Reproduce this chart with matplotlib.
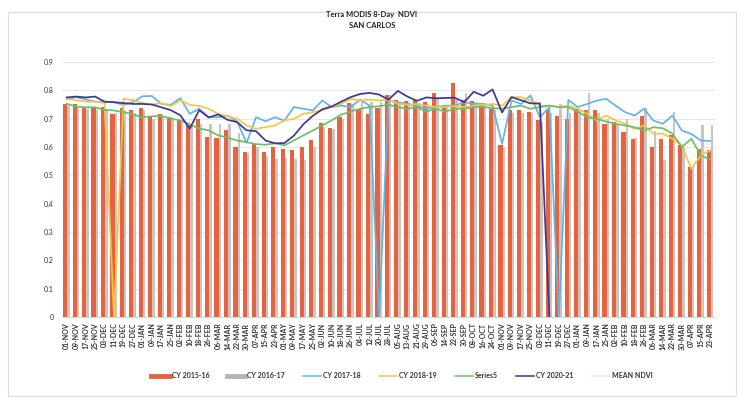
import numpy as np
import matplotlib
matplotlib.use("Agg")
import matplotlib.pyplot as plt
from matplotlib.patches import Rectangle
from matplotlib.lines import Line2D

plt.rcParams['font.family'] = ['Lato', 'DejaVu Sans']

labels = ['01-NOV','09-NOV','17-NOV','25-NOV','03-DEC','11-DEC','19-DEC','27-DEC',
          '01-JAN','09-JAN','17-JAN','25-JAN','02-FEB','10-FEB','18-FEB','26-FEB',
          '06-MAR','14-MAR','22-MAR','30-MAR','07-APR','15-APR','23-APR','01-MAY',
          '09-MAY','17-MAY','25-MAY','02-JUN','10-JUN','18-JUN','26-JUN','04-JUL',
          '12-JUL','20-JUL','28-JUL','05-AUG','13-AUG','21-AUG','29-AUG','06-SEP',
          '14-SEP','22-SEP','30-SEP','08-OCT','16-OCT','24-OCT','01-NOV','09-NOV',
          '17-NOV','25-NOV','03-DEC','11-DEC','19-DEC','27-DEC','01-JAN','09-JAN',
          '17-JAN','25-JAN','02-FEB','10-FEB','18-FEB','26-FEB','06-MAR','14-MAR',
          '22-MAR','30-MAR','07-APR','15-APR','23-APR']

cy_2015_16 = [0.752,0.752,0.740,0.740,0.740,0.717,0.738,0.731,0.738,0.705,
              0.715,0.705,0.696,0.676,0.700,0.635,0.633,0.659,0.600,0.582,
              0.611,0.582,0.600,0.594,0.588,0.600,0.625,0.684,0.668,0.705,
              0.755,0.733,0.718,0.738,0.785,0.766,0.764,0.766,0.758,0.790,
              0.746,0.825,0.766,0.764,0.752,0.735,0.606,0.729,0.731,0.723,
              0.694,0.729,0.708,0.700,0.735,0.729,0.731,0.682,0.688,0.653,
              0.629,0.711,0.600,0.629,0.641,0.606,0.529,0.594,0.588]

cy_2016_17 = [0.745,0.740,0.735,0.730,0.735,0.720,0.730,0.720,0.730,0.700,
              0.710,0.700,0.690,0.680,0.680,0.680,0.680,0.680,0.650,0.580,
              0.600,0.567,0.558,0.560,0.558,0.553,0.600,0.670,0.664,0.700,
              0.750,0.766,0.758,0.760,0.782,0.760,0.760,0.755,0.750,0.770,
              0.745,0.770,0.790,0.760,0.750,0.730,0.600,0.720,0.720,0.720,
              0.690,0.720,0.752,0.720,0.730,0.790,0.720,0.700,0.680,0.700,
              0.630,0.738,0.658,0.553,0.723,0.600,0.530,0.676,0.676]

cy_2017_18 = [0.770,0.776,0.768,0.760,0.760,0.758,0.749,0.758,0.779,0.780,
              0.752,0.749,0.772,0.717,0.735,0.705,0.705,0.711,0.690,0.615,
              0.705,0.691,0.705,0.693,0.741,0.735,0.729,0.764,0.741,0.746,
              0.741,0.767,0.746,0.000,0.764,0.758,0.752,0.746,0.735,0.741,
              0.746,0.746,0.758,0.752,0.752,0.746,0.611,0.764,0.752,0.782,
              0.705,0.740,0.000,0.766,0.741,0.752,0.764,0.770,0.746,0.723,
              0.711,0.735,0.693,0.682,0.711,0.658,0.646,0.623,0.621]

cy_2018_19 = [0.770,0.765,0.760,0.760,0.755,0.000,0.770,0.765,0.755,0.750,
              0.755,0.745,0.764,0.749,0.745,0.735,0.717,0.708,0.700,0.676,
              0.664,0.670,0.676,0.694,0.699,0.717,0.723,0.729,0.741,0.752,
              0.770,0.764,0.767,0.764,0.767,0.752,0.749,0.752,0.746,0.741,
              0.741,0.744,0.741,0.746,0.749,0.752,0.746,0.776,0.776,0.764,
              0.746,0.746,0.741,0.746,0.735,0.717,0.694,0.711,0.694,0.682,
              0.664,0.676,0.647,0.647,0.629,0.605,0.523,0.570,0.588]

series5 = [0.752,0.743,0.740,0.740,0.731,0.729,0.723,0.715,0.705,0.708,
           0.710,0.700,0.694,0.680,0.665,0.659,0.641,0.633,0.623,0.617,
           0.610,0.608,0.613,0.606,0.623,0.641,0.658,0.676,0.694,0.714,
           0.725,0.735,0.741,0.744,0.749,0.741,0.735,0.741,0.725,0.735,
           0.725,0.735,0.735,0.741,0.741,0.737,0.735,0.741,0.746,0.735,
           0.741,0.746,0.741,0.741,0.725,0.705,0.699,0.690,0.682,0.676,
           0.670,0.658,0.670,0.666,0.647,0.600,0.629,0.570,0.556]

cy_2020_21 = [0.775,0.778,0.775,0.778,0.760,0.758,0.755,0.752,0.752,0.750,
              0.740,0.730,0.712,0.665,0.730,0.704,0.715,0.696,0.688,0.659,
              0.656,0.623,0.613,0.614,0.640,0.680,0.710,0.733,0.743,0.760,
              0.776,0.787,0.791,0.785,0.767,0.798,0.778,0.763,0.775,0.772,
              0.773,0.774,0.758,0.795,0.781,0.803,0.722,0.776,0.765,0.754,
              0.754,0.000]

series_names = ['CY 2015-16', 'CY 2016-17', 'CY 2017-18', 'CY 2018-19',
                'Series5', 'CY 2020-21', 'MEAN NDVI']
yticks = [0, 0.1, 0.2, 0.3, 0.4, 0.5, 0.6, 0.7, 0.8, 0.9]
ytick_labels = ['0', '0.1', '0.2', '0.3', '0.4', '0.5', '0.6', '0.7', '0.8', '0.9']

c_orange = '#E4643F'
c_gray = '#CDC3C0'
c_blue = '#62B4E6'
c_yellow = '#F3C645'
c_green = '#6DBF67'
c_purple = '#3D3891'
c_mean = '#DCEEF4'

W, H = 743, 401
fig = plt.figure(figsize=(W / 100, H / 100), dpi=100)
fig.patch.set_facecolor('white')

fig.add_artist(Rectangle((8 / W, 1 - 396 / H), (736 - 8) / W, (396 - 12) / H,
                         transform=fig.transFigure, fill=False,
                         edgecolor='#dcdcdc', linewidth=0.8))

ax = fig.add_axes([62 / W, 1 - 317 / H, (715 - 62) / W, (317 - 62) / H])
x = np.arange(len(labels))
bw_o = 0.44
bw_g = 0.26
ax.bar(x - bw_o / 2 + 0.05, cy_2015_16, bw_o, color=c_orange, zorder=2)
ax.bar(x + bw_g / 2 + 0.05, cy_2016_17, bw_g, color=c_gray, zorder=2)

lw = 1.25
ax.plot(x, cy_2017_18, color=c_blue, lw=lw, zorder=3)
ax.plot(x, cy_2018_19, color=c_yellow, lw=lw, zorder=3)
ax.plot(x, series5, color=c_green, lw=lw, zorder=3)
ax.plot(np.arange(len(cy_2020_21)), cy_2020_21, color=c_purple, lw=lw, zorder=4)

ax.set_xlim(-0.5, len(labels) - 0.5)
ax.set_ylim(0, 0.9)
ax.set_yticks(yticks)
ax.set_yticklabels(ytick_labels, fontsize=5)
ax.set_xticks(x)
ax.set_xticklabels(labels, rotation=90, fontsize=5, fontweight='bold')
ax.tick_params(axis='both', length=0, pad=4, colors='#333333')
ax.tick_params(axis='y', pad=6)
ax.yaxis.grid(True, color='#e3e3e3', linewidth=0.6)
ax.set_axisbelow(True)
for s in ['top', 'right', 'left']:
    ax.spines[s].set_visible(False)
ax.spines['bottom'].set_color('#d0d0d0')
ax.spines['bottom'].set_linewidth(0.6)

fig.text(372 / W, 1 - 15 / H, 'Terra MODIS 8-Day  NDVI', ha='center', va='center',
         fontsize=5.5, fontweight='bold', color='#222222')
fig.text(372 / W, 1 - 25 / H, 'SAN CARLOS', ha='center', va='center',
         fontsize=5.5, fontweight='bold', color='#222222')

handles = [
    Line2D([], [], color=c_orange, lw=3.5),
    Line2D([], [], color='#B5B5B5', lw=3.5),
    Line2D([], [], color=c_blue, lw=1.1),
    Line2D([], [], color=c_yellow, lw=1.1),
    Line2D([], [], color=c_green, lw=1.1),
    Line2D([], [], color=c_purple, lw=1.1),
    Line2D([], [], color=c_mean, lw=1.1),
]
leg = fig.legend(handles, series_names, loc='center', bbox_to_anchor=(402 / W, 1 - 376 / H),
                 ncol=7, frameon=False, fontsize=5, handlelength=2.6, handletextpad=0.3,
                 columnspacing=2.6)
for t in leg.get_texts():
    t.set_fontweight('bold')
    t.set_color('#333333')

fig.savefig('out.png', dpi=100, facecolor='white')
